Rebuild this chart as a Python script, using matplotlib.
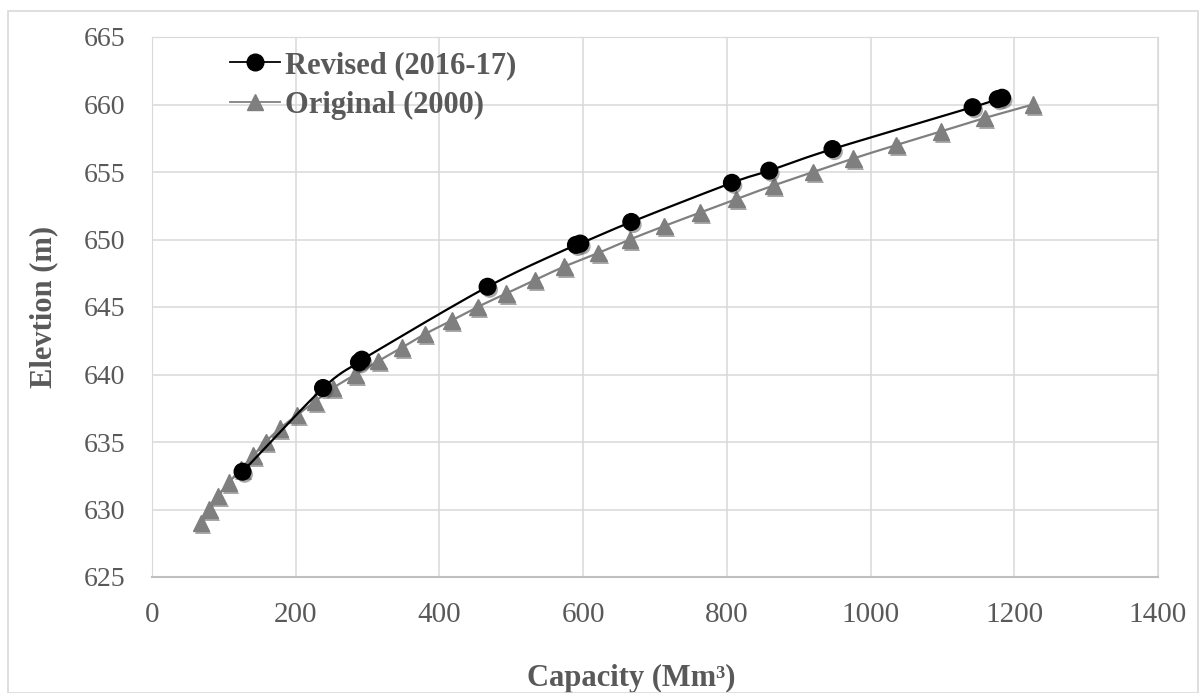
import numpy as np
import matplotlib.pyplot as plt
import matplotlib.patheffects as pe
from matplotlib.lines import Line2D
from matplotlib.patches import Rectangle

# Revised (2016-17) survey
cap_rev = [126, 238, 288, 292, 467, 590, 596, 667, 807, 859, 947, 1142, 1177, 1183]
elev_rev = [632.8, 639.0, 640.9, 641.1, 646.5, 649.6, 649.7, 651.3, 654.2, 655.1,
            656.7, 659.8, 660.4, 660.5]

# Original (2000) survey
cap_org = [68, 80, 92, 107, 124, 141, 158, 178, 202, 227, 252, 283, 315, 348, 380,
           417, 453, 493, 533, 574, 621, 665, 713, 763, 813, 865, 920, 976, 1036,
           1098, 1159, 1226]
elev_org = list(range(629, 661))

xticks = [0, 200, 400, 600, 800, 1000, 1200, 1400]
yticks = [625, 630, 635, 640, 645, 650, 655, 660, 665]


def smooth(x, y, n=20):
    # catmull-rom, roughly what excel does for "smoothed line"
    x = np.asarray(x, float)
    y = np.asarray(y, float)
    px = np.concatenate([[2 * x[0] - x[1]], x, [2 * x[-1] - x[-2]]])
    py = np.concatenate([[2 * y[0] - y[1]], y, [2 * y[-1] - y[-2]]])
    t = np.linspace(0, 1, n)[:, None]
    xs, ys = [], []
    for i in range(1, len(px) - 2):
        for p, out in ((px, xs), (py, ys)):
            p0, p1, p2, p3 = p[i - 1], p[i], p[i + 1], p[i + 2]
            c = 0.5 * ((2 * p1) + (-p0 + p2) * t + (2 * p0 - 5 * p1 + 4 * p2 - p3) * t ** 2
                       + (-p0 + 3 * p1 - 3 * p2 + p3) * t ** 3)
            out.append(c.ravel())
    return np.concatenate(xs), np.concatenate(ys)


plt.rcParams['font.family'] = ['Liberation Serif', 'DejaVu Serif']
grey_txt = '#595959'

fig = plt.figure(figsize=(12.04, 6.93), dpi=100)
fig.patches.append(Rectangle((8 / 1204, 0), 1190 / 1204, 1 - 11 / 693, transform=fig.transFigure,
                             fill=False, edgecolor='#D9D9D9', linewidth=1.2))
ax = fig.add_axes([152 / 1204, 1 - 577 / 693, 1006 / 1204, 540 / 693])

shadow = [pe.SimplePatchShadow(offset=(1.5, -2), shadow_rgbFace='#555555', alpha=0.5), pe.Normal()]

sx, sy = smooth(cap_org, elev_org)
ax.plot(sx, sy, color='#808080', lw=1.6, zorder=3)
ax.plot(cap_org, elev_org, ls='none', marker='^', ms=12, color='#7F7F7F', zorder=4,
        path_effects=shadow)

sx, sy = smooth(cap_rev, elev_rev)
ax.plot(sx, sy, color='black', lw=1.6, zorder=5)
ax.plot(cap_rev, elev_rev, ls='none', marker='o', ms=12, color='black', zorder=6,
        path_effects=shadow)

ax.set_xlim(0, 1400)
ax.set_ylim(625, 665)
ax.set_xticks(xticks)
ax.set_yticks(yticks)
ax.grid(True, color='#D9D9D9', lw=1.1)
ax.set_axisbelow(True)
for s in ['top', 'right', 'left']:
    ax.spines[s].set_color('#D9D9D9')
ax.spines['bottom'].set_color('#BFBFBF')
ax.spines['bottom'].set_linewidth(1.5)
ax.tick_params(length=0, colors=grey_txt)
ax.tick_params(axis='x', labelsize=21, pad=18)
ax.tick_params(axis='y', labelsize=20, pad=19)

ax.set_xlabel('Capacity (Mm³)', fontsize=22, fontweight='bold', color=grey_txt)
ax.set_ylabel('Elevtion (m)', fontsize=22, fontweight='bold', color=grey_txt)
ax.xaxis.set_label_coords((631 - 152) / 1006, (577 - 664) / 540)
ax.yaxis.set_label_coords((58 - 152) / 1006, 0.5)

handles = [Line2D([], [], color='black', marker='o', ms=12, lw=1.3),
           Line2D([], [], color='#808080', marker='^', ms=12, markerfacecolor='#7F7F7F',
                  markeredgecolor='#7F7F7F', lw=1.3)]
leg = ax.legend(handles, ['Revised (2016-17)', 'Original (2000)'], loc='upper left',
                bbox_to_anchor=(230 / 1204, 1 - 51 / 693), bbox_transform=fig.transFigure,
                frameon=False, borderpad=0, borderaxespad=0, handlelength=1.65,
                handletextpad=0.15, labelspacing=0.35, prop={'size': 22, 'weight': 'bold'})
for t in leg.get_texts():
    t.set_color(grey_txt)

fig.savefig('out.png', dpi=100)
